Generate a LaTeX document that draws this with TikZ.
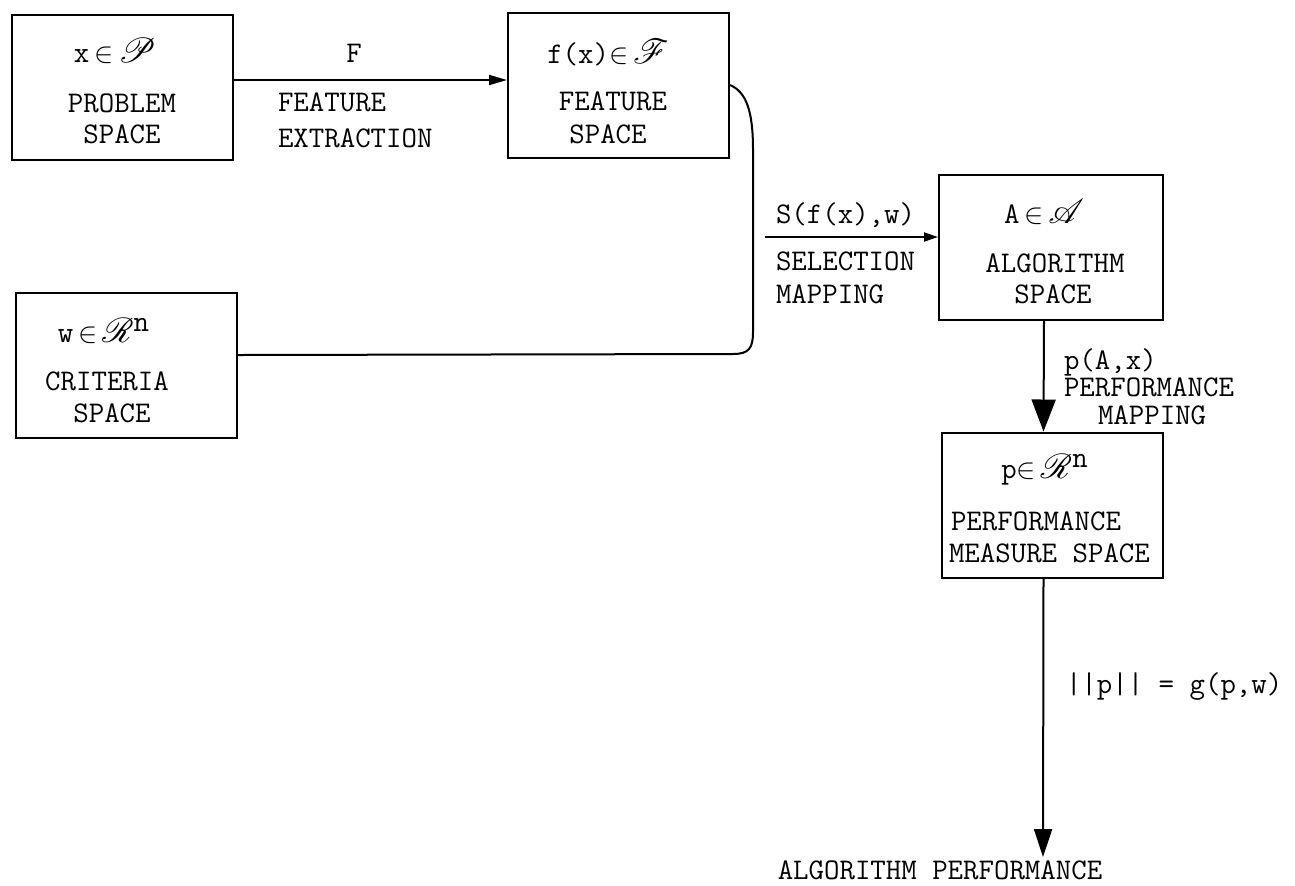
\documentclass[tikz,border=0pt]{standalone}
\usepackage{fontspec}
\usepackage{mathrsfs}
\usetikzlibrary{arrows.meta,calc}
\newcommand{\scr}[1]{\scalebox{1.2}{$\mathscr{#1}$}}
\begin{document}
\begin{tikzpicture}[x=0.5pt,y=-0.5pt,line width=1pt,
  box/.style={draw,line width=1pt,inner sep=0pt,minimum width=110.5pt,minimum height=72.5pt},
  txt/.style={inner sep=0pt,font=\ttfamily\fontsize{15}{18}\selectfont,anchor=base},
  ltxt/.style={txt,anchor=base west},
  harr/.style={-{Triangle[length=9pt,width=5pt]}},
  sarr/.style={-{Triangle[length=7pt,width=4.5pt]}},
  varr/.style={-{Triangle[length=16pt,width=12pt]}},
  barr/.style={-{Triangle[length=14pt,width=9pt]}}]
\useasboundingbox (0,0) rectangle (1295,885);
% boxes
\node[box] (prob) at (122.5,87) {};
\node[box] (feat) at (618.5,85) {};
\node[box] (crit) at (126.5,365) {};
\node[box,minimum width=112pt] (alg) at (1051,247.5) {};
\node[box] (perf) at (1052.5,505) {};
% box texts
\node[txt] (probm) at (115,62) {x$\,\in\,$\scr{P}};
\node[txt] (probt1) at (122,112) {PROBLEM};
\node[txt] (probt2) at (122,143) {SPACE};
\node[txt] (featm) at (608,63) {f(x)$\in\,$\scr{F}};
\node[txt] (featt1) at (613,110) {FEATURE};
\node[txt] (featt2) at (608,143) {SPACE};
\node[txt] (critm) at (104,342) {w$\,\in\,$\scr{R}$^{\texttt{n}}$};
\node[txt] (critt1) at (107,390) {CRITERIA};
\node[txt] (critt2) at (112,422) {SPACE};
\node[txt] (algm) at (1044,223) {A$\,\in\,$\scr{A}};
\node[txt] (algt1) at (1055,272) {ALGORITHM};
\node[txt] (algt2) at (1053,303) {SPACE};
\node[txt] (perfm) at (1045,478) {p$\in\,$\scr{R}$^{\texttt{n}}$};
\node[ltxt] (perft1) at (950,530) {PERFORMANCE};
\node[ltxt] (perft2) at (948,562) {MEASURE SPACE};
% connector labels
\node[txt] (fl) at (354,62) {F};
\node[ltxt] (fl1) at (277,111) {FEATURE};
\node[ltxt] (fl2) at (277,147) {EXTRACTION};
\node[ltxt] (sl) at (775,223) {S(f(x),w)};
\node[ltxt] (sl1) at (775,270) {SELECTION};
\node[ltxt] (sl2) at (775,303) {MAPPING};
\node[ltxt] (pl) at (1063,369) {p(A,x)};
\node[ltxt] (pl1) at (1063,396) {PERFORMANCE};
\node[ltxt] (pl2) at (1097,424) {MAPPING};
\node[ltxt] (nl) at (1065,693) {||p|| = g(p,w)};
\node[txt] (outl) at (940,879) {ALGORITHM PERFORMANCE};
% coordinates
\coordinate (sstart) at (765,237);
\coordinate (out) at (1043,857);
% connectors
\draw[harr] ($(prob.east)+(0,-7)$) -- ($(feat.west)+(0,-5)$);
\draw ($(crit.east)+(0,-10)$) -- (733,354)
  .. controls (749,354) and (753,348) .. (753,332) -- (753,150)
  .. controls (753,110) and (746,92) .. (feat.east);
\draw[sarr] (sstart) -- (sstart -| alg.west);
\draw[varr] ($(alg.south)+(-7,0)$) -- ($(perf.north)+(-9,0)$);
\draw[barr] ($(perf.south)+(-9,0)$) -- (out);
\end{tikzpicture}
\end{document}
